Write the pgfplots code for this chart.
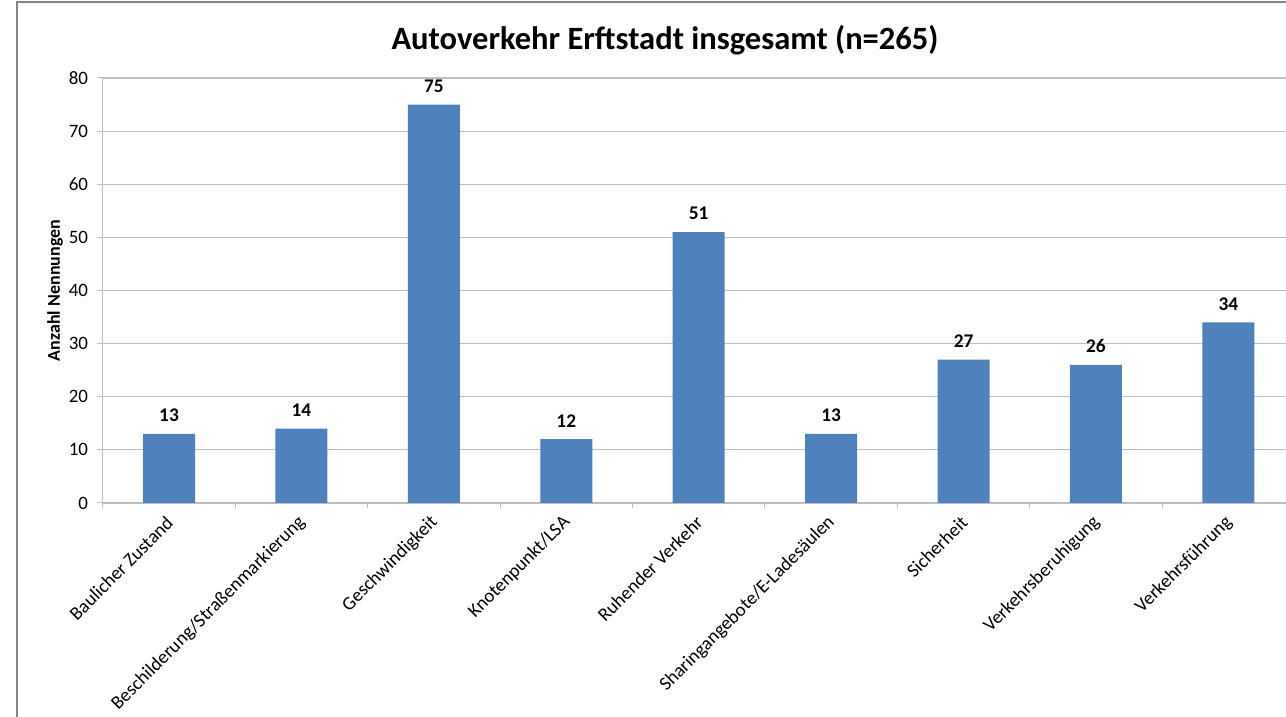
\documentclass[border=0pt]{standalone}
\usepackage{fontspec}
\setmainfont{Carlito}
\usepackage{pgfplots}
\pgfplotsset{compat=1.18}

\definecolor{barblue}{RGB}{79,129,189}
\definecolor{gridgray}{RGB}{190,190,190}
\definecolor{framegray}{RGB}{134,134,134}

\begin{document}
\begin{tikzpicture}
% Seitenrahmen 1286x717 px, 1 px = 0.75pt
\useasboundingbox (0,0) rectangle (964.5pt,537.75pt);
\clip (0,0) rectangle (964.5pt,537.75pt);

\draw[framegray, line width=1.5pt] (12.75pt,-5pt) -- (12.75pt,536.25pt) -- (980pt,536.25pt);

\node[font=\fontsize{24.4}{28}\selectfont\bfseries] at (498.75pt,507.75pt) {Autoverkehr Erftstadt insgesamt (n=265)};

\begin{axis}[
at={(77.1pt,160.5pt)},
anchor=south west,
width=893.85pt,
height=318.75pt,
scale only axis,
clip=false,
ybar,
bar width=39pt,
ymin=0, ymax=80,
ytick={0,10,...,80},
xmin=-0.5, xmax=8.5,
xtick={0,...,8},
xticklabels={Baulicher Zustand,Beschilderung/Straßenmarkierung,Geschwindigkeit,Knotenpunkt/LSA,Ruhender Verkehr,Sharingangebote/E-Ladesäulen,Sicherheit,Verkehrsberuhigung,Verkehrsführung},
minor xtick={-0.5,0.5,...,8.5},
major x tick style={draw=none},
minor tick length=4pt,
major tick length=4pt,
tick align=outside,
tick style={gridgray, line width=0.75pt},
axis x line*=bottom,
axis y line*=left,
axis line style={-, gridgray, line width=0.9pt},
ymajorgrids,
grid style={gridgray, line width=0.9pt},
xticklabel style={xshift=3pt, yshift=-6pt, rotate=45, anchor=east, font=\fontsize{14.2}{16}\selectfont},
yticklabel style={xshift=-3.5pt, font=\fontsize{14.2}{16}\selectfont},
/pgf/number format/assume math mode=true,
ylabel={Anzahl Nennungen},
ylabel style={at={(rel axis cs:-0.0401,0.5)}, anchor=center, font=\fontsize{13.5}{15}\selectfont\bfseries},
nodes near coords,
every node near coord/.append style={font=\fontsize{14.5}{16}\selectfont\bfseries, yshift=5.5pt},
]
\addplot[fill=barblue, draw=none] coordinates {(0,13) (1,14) (2,75) (3,12) (4,51) (5,13) (6,27) (7,26) (8,34)};
\end{axis}
\end{tikzpicture}
\end{document}
